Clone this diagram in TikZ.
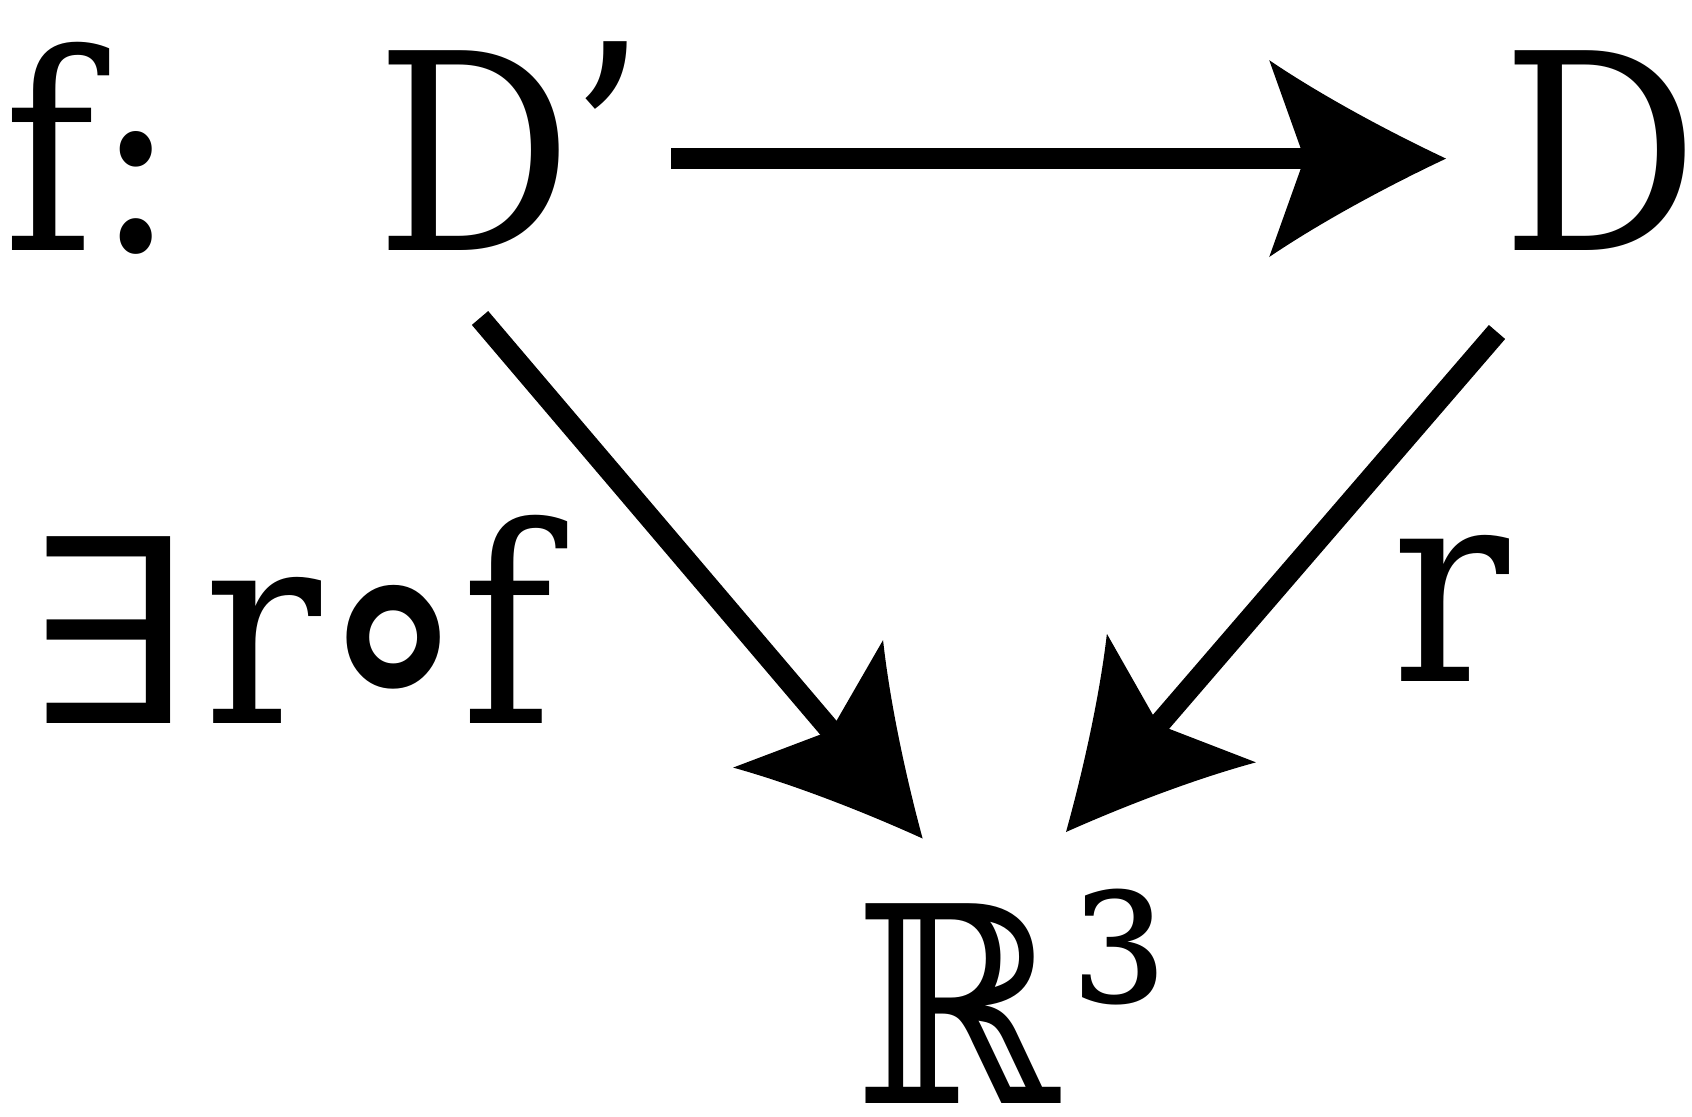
\documentclass[tikz,border=0pt]{standalone}
\usepackage{fontspec}
\setmainfont{DejaVu Serif Condensed}

% punta de flecha con lados curvos
\pgfdeclarearrow{
  name = Fang,
  setup code = {
    \pgfarrowssettipend{0pt}
    \pgfarrowssetlineend{-38pt}
    \pgfarrowssetbackend{-50.3pt}
    \pgfarrowssetvisualbackend{-40.3pt}
    \pgfarrowshullpoint{0pt}{0pt}
    \pgfarrowsupperhullpoint{-50.3pt}{28pt}
  },
  drawing code = {
    \pgfpathmoveto{\pgfqpoint{0pt}{0pt}}
    \pgfpathcurveto{\pgfqpoint{-17pt}{8pt}}{\pgfqpoint{-36pt}{18.3pt}}{\pgfqpoint{-50.3pt}{28pt}}
    \pgfpathlineto{\pgfqpoint{-40.3pt}{0pt}}
    \pgfpathlineto{\pgfqpoint{-50.3pt}{-28pt}}
    \pgfpathcurveto{\pgfqpoint{-36pt}{-18.3pt}}{\pgfqpoint{-17pt}{-8pt}}{\pgfqpoint{0pt}{0pt}}
    \pgfpathclose
    \pgfusepathqfill
  }
}

\begin{document}
\begin{tikzpicture}[>=Fang,
    obj/.style={inner sep=0pt, anchor=base west, font=\fontsize{78}{80}\selectfont},
    map/.style={->, line width=6.1pt}]
  \useasboundingbox (0,0) rectangle (16.92,11.16);

  % Objetos
  \node[obj] (fdef) at (0.03,8.66) {f:};
  \node[obj] (Dp) at (3.75,8.66) {D\kern-0.05cm\raisebox{0.09cm}{’}};
  \node[obj] (D) at (15.01,8.66) {D};
  \node[obj] (R3) at (8.54,0.13) {ℝ\kern0.11cm\raisebox{0.11cm}{³}};

  % Etiquetas
  \node[obj] (comp) at (0.28,3.93) {\scalebox{1.24}[0.935]{∃}\kern0.09cm r\kern-0.1cm{\fontsize{106}{106}\selectfont\raisebox{-0.31cm}{∘}}\kern-0.14cm f};
  \node[obj] (r) at (13.91,4.35) {r};

  % Flechas
  \draw[map] ([shift={(2.96,0.914)}]Dp.base west) -- ([shift={(-0.55,0.914)}]D.base west);
  \draw[map] ([shift={(1.05,-0.68)}]Dp.base west) -- ([shift={(0.686,2.645)}]R3.base west);
  \draw[map] ([shift={(-0.04,-0.82)}]D.base west) -- ([shift={(2.12,2.71)}]R3.base west);
\end{tikzpicture}
\end{document}
